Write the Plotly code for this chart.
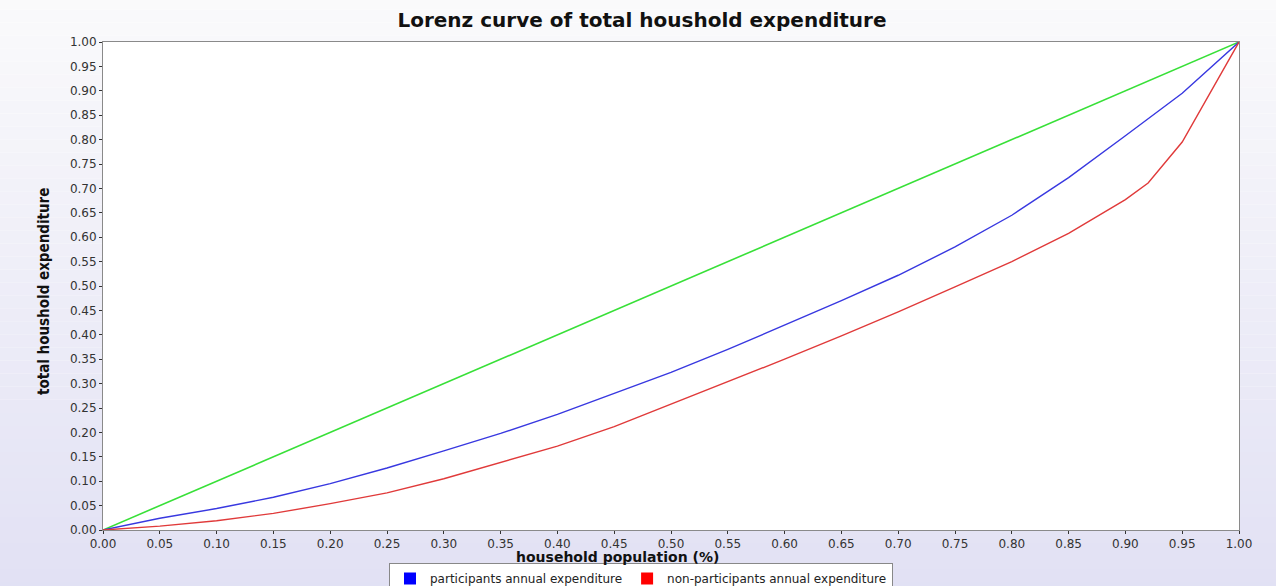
import plotly.graph_objects as go

# ---- data ----
x_part = [0.00, 0.05, 0.10, 0.15, 0.20, 0.25, 0.30, 0.35, 0.40, 0.45, 0.50,
          0.55, 0.60, 0.65, 0.70, 0.75, 0.80, 0.85, 0.90, 0.95, 1.00]
y_part = [0.000, 0.024, 0.044, 0.067, 0.095, 0.127, 0.162, 0.198, 0.237, 0.280, 0.323,
          0.370, 0.420, 0.470, 0.522, 0.580, 0.645, 0.722, 0.808, 0.895, 1.000]

x_non = [0.00, 0.05, 0.10, 0.15, 0.20, 0.25, 0.30, 0.35, 0.40, 0.45, 0.50,
         0.55, 0.60, 0.65, 0.70, 0.75, 0.80, 0.85, 0.90, 0.92, 0.95, 1.00]
y_non = [0.000, 0.008, 0.019, 0.034, 0.054, 0.076, 0.105, 0.138, 0.172, 0.212, 0.258,
         0.303, 0.350, 0.398, 0.447, 0.498, 0.550, 0.608, 0.677, 0.711, 0.795, 1.000]

x_equal = [0.0, 1.0]
y_equal = [0.0, 1.0]

tick_vals = [round(i * 0.05, 2) for i in range(21)]
tick_text = [f"{v:.2f}" for v in tick_vals]

series_names = ["participants annual expenditure", "non-participants annual expenditure"]
BLUE = "#3838e0"
RED = "#e03a3a"
GREEN = "#38e038"

W, H = 1276, 586
L, R, T, B = 103, 37, 42, 56
PW, PH = W - L - R, H - T - B

fig = go.Figure()

fig.add_trace(go.Scatter(x=x_equal, y=y_equal, mode="lines",
                         line=dict(color=GREEN, width=1.6), showlegend=False, hoverinfo="skip"))
fig.add_trace(go.Scatter(x=x_part, y=y_part, mode="lines",
                         line=dict(color=BLUE, width=1.4), showlegend=False))
fig.add_trace(go.Scatter(x=x_non, y=y_non, mode="lines",
                         line=dict(color=RED, width=1.4), showlegend=False))
# legend entries with square swatches
fig.add_trace(go.Scatter(x=[None], y=[None], mode="markers", name=series_names[0],
                         marker=dict(symbol="square", size=12, color="#0000ff")))
fig.add_trace(go.Scatter(x=[None], y=[None], mode="markers", name=series_names[1],
                         marker=dict(symbol="square", size=12, color="#ff0000")))

# background gradient (white at top -> lavender at bottom)
shapes = []
n = 60
top = (252, 252, 252)
bot = (220, 219, 242)
for i in range(n):
    t = i / (n - 1)
    c = tuple(int(round(top[k] + (bot[k] - top[k]) * t)) for k in range(3))
    shapes.append(dict(type="rect", xref="paper", yref="paper", layer="below",
                       x0=-0.2, x1=1.2,
                       y0=1.2 - (i + 1) * 1.6 / n, y1=1.2 - i * 1.6 / n,
                       line=dict(width=0), fillcolor=f"rgb{c}"))
shapes.append(dict(type="rect", xref="x", yref="y", layer="below",
                   x0=0, x1=1, y0=0, y1=1, line=dict(width=0), fillcolor="white"))

axis_common = dict(
    range=[0, 1], tickmode="array", tickvals=tick_vals, ticktext=tick_text,
    showgrid=False, zeroline=False, showline=True, linecolor="#8a8a8a", linewidth=1,
    mirror=True, ticks="outside", ticklen=3, tickcolor="#333333", tickwidth=1,
    tickfont=dict(family="DejaVu Sans", size=12, color="#333333"),
)

annotations = [
    dict(text="household population (%)", xref="paper", yref="paper",
         x=(617 - L) / PW, y=-(557 - (H - B)) / PH,
         xanchor="center", yanchor="middle", showarrow=False,
         font=dict(family="DejaVu Sans", size=14, color="#111111", weight="bold")),
    dict(text="total houshold expenditure", xref="paper", yref="paper",
         x=-(L - 44) / PW, y=((H - B) - 292) / PH,
         xanchor="center", yanchor="middle", showarrow=False, textangle=-90,
         font=dict(family="DejaVu Sans Condensed", size=15, color="#111111", weight="bold")),
]

fig.update_layout(
    width=W, height=H,
    margin=dict(l=L, r=R, t=T, b=B, autoexpand=False),
    paper_bgcolor="white",
    plot_bgcolor="rgba(0,0,0,0)",
    shapes=shapes,
    annotations=annotations,
    title=dict(text="Lorenz curve of total houshold expenditure",
               x=642 / W, xref="container", xanchor="center",
               y=1 - 20 / H, yref="container", yanchor="middle",
               font=dict(family="DejaVu Sans", size=20, color="#111111", weight="bold")),
    xaxis=dict(**axis_common),
    yaxis=dict(**axis_common),
    legend=dict(orientation="h", x=641 / W, xanchor="center", xref="container",
                y=1 - 563 / H, yref="container", yanchor="top",
                bgcolor="white", bordercolor="#888888", borderwidth=1,
                font=dict(family="DejaVu Sans", size=12, color="#222222"),
                itemsizing="constant", tracegroupgap=0),
    showlegend=True,
)

fig.write_html("out.html")
